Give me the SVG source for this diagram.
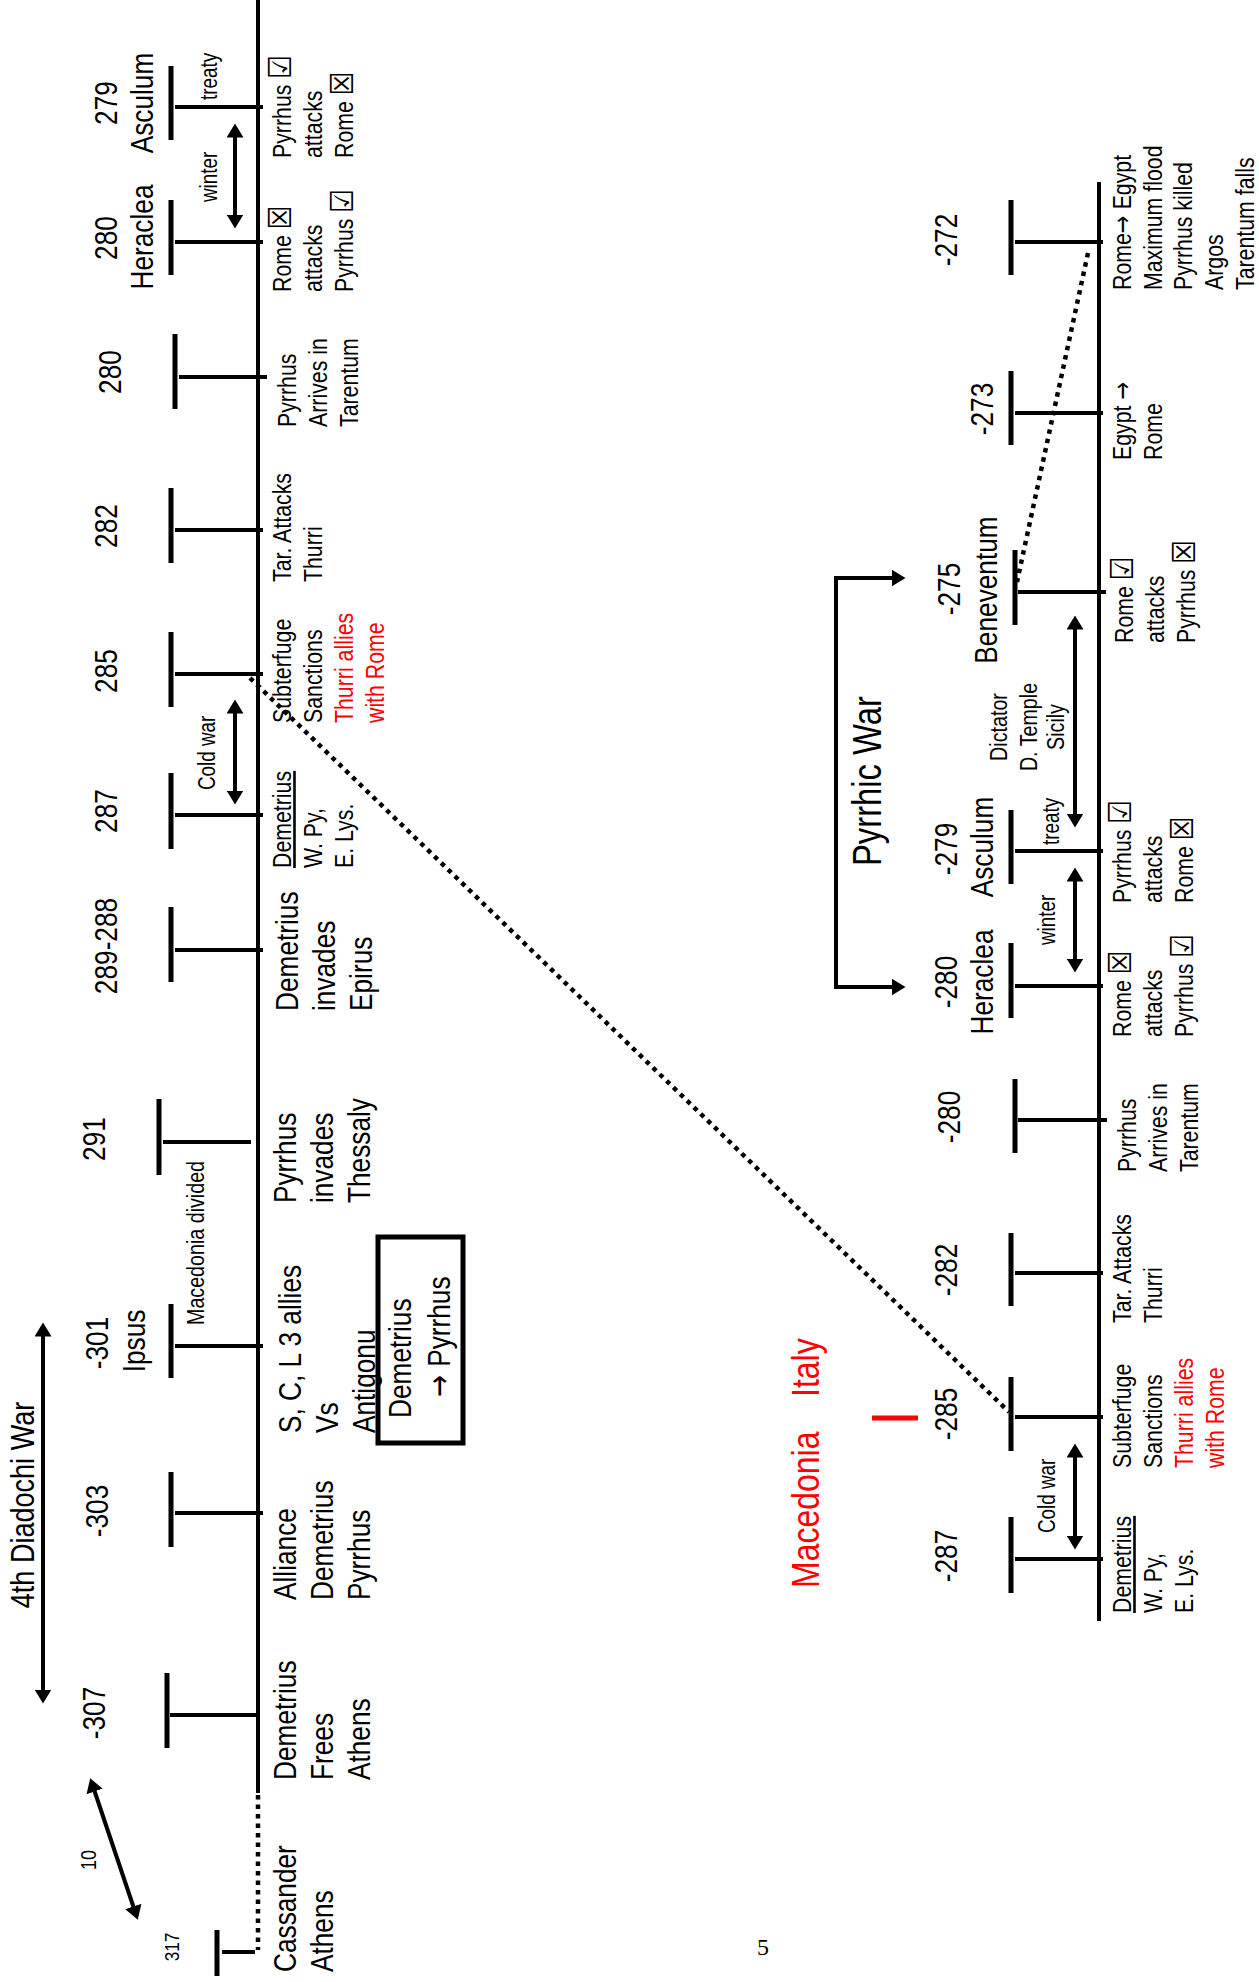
<svg xmlns="http://www.w3.org/2000/svg" width="1259" height="1982" viewBox="0 0 1259 1982">
<style>
text{font-family:"Liberation Sans",Arial,sans-serif;fill:#000}
.f32{font-size:32px}.f26{font-size:26px}.f24{font-size:24px}.f23{font-size:23px}.f40{font-size:40px}.f39{font-size:39px}.f22{font-size:22px}.f21{font-size:21px}
.m{text-anchor:middle}
.red{fill:#ff0000}
.cb{font-family:"DejaVu Sans",sans-serif;font-size:32px}
.ar{font-family:"DejaVu Sans",sans-serif}
.ax{stroke:#000;stroke-width:4;fill:none}
.th{stroke:#000;stroke-width:4}
.tb{stroke:#000;stroke-width:5}
.arr{stroke:#000;stroke-width:4;fill:none;marker-start:url(#ah);marker-end:url(#ah)}
.dot{stroke:#000;stroke-width:4.5;stroke-dasharray:4.5 5;fill:none}
.u{text-decoration:underline}
</style>
<defs>
<marker id="ah" viewBox="0 0 14 17" refX="0.5" refY="8.5" markerWidth="14" markerHeight="17" markerUnits="userSpaceOnUse" orient="auto-start-reverse"><path d="M0,0 L14,8.5 L0,17 Z" fill="#000"/></marker>
</defs>
<rect width="1259" height="1982" fill="#fff"/>

<!-- axes -->
<g id="axes">
<line class="ax" x1="258" y1="0" x2="258" y2="1793"/>
<line class="ax" x1="1099" y1="182" x2="1099" y2="1621"/>
</g>

<!-- LEFT TIMELINE NODES -->
<g id="L279">
<line class="th" x1="175" y1="107" x2="263" y2="107"/><line class="tb" x1="171" y1="66" x2="171" y2="140"/>
<text class="f32 m" transform="translate(117,103) rotate(-90) scale(.82,1)">279</text>
<text class="f32 m" transform="translate(153,103) rotate(-90) scale(.82,1)">Asculum</text>
<text class="f23" transform="translate(217,100) rotate(-90) scale(.82,1)">treaty</text>
<text class="f26" transform="translate(291,158) rotate(-90) scale(.82,1)"><tspan x="0">Pyrrhus <tspan class="cb">☑</tspan></tspan><tspan x="0" dy="31">attacks</tspan><tspan x="0" dy="31">Rome <tspan class="cb">☒</tspan></tspan></text>
</g>
<g id="L280H">
<line class="th" x1="175" y1="242" x2="263" y2="242"/><line class="tb" x1="171" y1="200" x2="171" y2="275"/>
<text class="f32 m" transform="translate(117,238) rotate(-90) scale(.82,1)">280</text>
<text class="f32 m" transform="translate(153,237) rotate(-90) scale(.82,1)">Heraclea</text>
<text class="f23" transform="translate(217,202) rotate(-90) scale(.82,1)">winter</text>
<text class="f26" transform="translate(291,292) rotate(-90) scale(.82,1)"><tspan x="0">Rome <tspan class="cb">☒</tspan></tspan><tspan x="0" dy="31">attacks</tspan><tspan x="0" dy="31">Pyrrhus <tspan class="cb">☑</tspan></tspan></text>
</g>
<g id="L280A">
<line class="th" x1="179" y1="377" x2="267" y2="377"/><line class="tb" x1="175" y1="334" x2="175" y2="409"/>
<text class="f32 m" transform="translate(121,372) rotate(-90) scale(.82,1)">280</text>
<text class="f26" transform="translate(296,427) rotate(-90) scale(.82,1)"><tspan x="0">Pyrrhus</tspan><tspan x="0" dy="31">Arrives in</tspan><tspan x="0" dy="31">Tarentum</tspan></text>
</g>
<g id="L282">
<line class="th" x1="175" y1="530" x2="263" y2="530"/><line class="tb" x1="171" y1="488" x2="171" y2="563"/>
<text class="f32 m" transform="translate(117,526) rotate(-90) scale(.82,1)">282</text>
<text class="f26" transform="translate(291,582) rotate(-90) scale(.82,1)"><tspan x="0">Tar. Attacks</tspan><tspan x="0" dy="31">Thurri</tspan></text>
</g>
<g id="L285">
<line class="th" x1="175" y1="674" x2="263" y2="674"/><line class="tb" x1="171" y1="632" x2="171" y2="707"/>
<text class="f32 m" transform="translate(117,671) rotate(-90) scale(.82,1)">285</text>
<text class="f26" transform="translate(291,723) rotate(-90) scale(.82,1)"><tspan x="0">Subterfuge</tspan><tspan x="0" dy="31">Sanctions</tspan><tspan x="0" dy="31" class="red">Thurri allies</tspan><tspan x="0" dy="31" class="red">with Rome</tspan></text>
</g>
<g id="L287">
<line class="th" x1="175" y1="815" x2="263" y2="815"/><line class="tb" x1="171" y1="773" x2="171" y2="849"/>
<text class="f32 m" transform="translate(117,811) rotate(-90) scale(.82,1)">287</text>
<text class="f23" transform="translate(215,790) rotate(-90) scale(.82,1)">Cold war</text>
<text class="f26" transform="translate(291,868) rotate(-90) scale(.82,1)"><tspan x="0" class="u">Demetrius</tspan><tspan x="0" dy="31">W. Py,</tspan><tspan x="0" dy="31">E. Lys.</tspan></text>
</g>
<g id="L289">
<line class="th" x1="175" y1="950" x2="263" y2="950"/><line class="tb" x1="171" y1="907" x2="171" y2="982"/>
<text class="f32 m" transform="translate(117,946) rotate(-90) scale(.82,1)">289-288</text>
<text class="f32" transform="translate(298,1011) rotate(-90) scale(.82,1)"><tspan x="0">Demetrius</tspan><tspan x="0" dy="37">invades</tspan><tspan x="0" dy="37">Epirus</tspan></text>
</g>
<g id="L291">
<line class="th" x1="163" y1="1142" x2="251" y2="1142"/><line class="tb" x1="159" y1="1099" x2="159" y2="1175"/>
<text class="f32 m" transform="translate(105,1139) rotate(-90) scale(.82,1)">291</text>
<text class="f24" transform="translate(204,1325) rotate(-90) scale(.82,1)">Macedonia divided</text>
<text class="f32" transform="translate(296,1203) rotate(-90) scale(.82,1)"><tspan x="0">Pyrrhus</tspan><tspan x="0" dy="37">invades</tspan><tspan x="0" dy="37">Thessaly</tspan></text>
</g>
<g id="L301">
<line class="th" x1="175" y1="1346" x2="263" y2="1346"/><line class="tb" x1="171" y1="1304" x2="171" y2="1378"/>
<text class="f32 m" transform="translate(108,1343) rotate(-90) scale(.82,1)">-301</text>
<text class="f32 m" transform="translate(145,1341) rotate(-90) scale(.82,1)">Ipsus</text>
<text class="f32" transform="translate(301,1433) rotate(-90) scale(.82,1)"><tspan x="0">S, C, L 3 allies</tspan><tspan x="0" dy="37">Vs</tspan><tspan x="0" dy="37">Antigonu</tspan></text>
</g>
<g id="Lbox">
<rect x="378" y="1237" width="85" height="206" fill="none" stroke="#000" stroke-width="5"/>
<text class="f32" transform="translate(411,1418) rotate(-90) scale(.82,1)">Demetrius</text>
<text class="f32" transform="translate(450,1397) rotate(-90) scale(.82,1)"><tspan class="ar">→</tspan><tspan dx="10">Pyrrhus</tspan></text>
</g>
<g id="L303">
<line class="th" x1="175" y1="1513" x2="263" y2="1513"/><line class="tb" x1="171" y1="1472" x2="171" y2="1547"/>
<text class="f32 m" transform="translate(108,1511) rotate(-90) scale(.82,1)">-303</text>
<text class="f32" transform="translate(296,1600) rotate(-90) scale(.82,1)"><tspan x="0">Alliance</tspan><tspan x="0" dy="37">Demetrius</tspan><tspan x="0" dy="37">Pyrrhus</tspan></text>
</g>
<g id="L307">
<line class="th" x1="170" y1="1715" x2="258" y2="1715"/><line class="tb" x1="167" y1="1673" x2="167" y2="1748"/>
<text class="f32 m" transform="translate(105,1713) rotate(-90) scale(.82,1)">-307</text>
<text class="f32" transform="translate(296,1780) rotate(-90) scale(.82,1)"><tspan x="0">Demetrius</tspan><tspan x="0" dy="37">Frees</tspan><tspan x="0" dy="37">Athens</tspan></text>
</g>
<g id="L317">
<line class="th" x1="222" y1="1952" x2="255" y2="1952"/><line class="tb" x1="217" y1="1930" x2="217" y2="1976"/>
<text class="f21 m" transform="translate(179,1947) rotate(-90) scale(.82,1)">317</text>
<text class="f22 m" transform="translate(96,1860) rotate(-90) scale(.82,1)">10</text>
<text class="f32" transform="translate(296,1972) rotate(-90) scale(.82,1)"><tspan x="0">Cassander</tspan><tspan x="0" dy="37">Athens</tspan></text>
</g>
<g id="Ldiadochi">
<text class="f32 m" style="font-size:33px" transform="translate(34,1505) rotate(-90) scale(.82,1)">4th Diadochi War</text>
</g>

<!-- RIGHT TIMELINE NODES -->
<g id="R272">
<line class="th" x1="1015" y1="242" x2="1103" y2="242"/><line class="tb" x1="1011" y1="200" x2="1011" y2="275"/>
<text class="f32 m" transform="translate(957,240) rotate(-90) scale(.82,1)">-272</text>
<text class="f26" transform="translate(1131,290) rotate(-90) scale(.82,1)"><tspan x="0">Rome<tspan class="ar">→</tspan> Egypt</tspan><tspan x="0" dy="31">Maximum flood</tspan><tspan x="0" dy="30">Pyrrhus killed</tspan><tspan x="0" dy="31">Argos</tspan><tspan x="0" dy="31">Tarentum falls</tspan></text>
</g>
<g id="R273">
<line class="th" x1="1015" y1="413" x2="1103" y2="413"/><line class="tb" x1="1011" y1="371" x2="1011" y2="445"/>
<text class="f32 m" transform="translate(993,409) rotate(-90) scale(.82,1)">-273</text>
<text class="f26" transform="translate(1131,460) rotate(-90) scale(.82,1)"><tspan x="0">Egypt <tspan class="ar">→</tspan></tspan><tspan x="0" dy="31">Rome</tspan></text>
</g>
<g id="R275">
<line class="th" x1="1018" y1="592" x2="1106" y2="592"/><line class="tb" x1="1015" y1="550" x2="1015" y2="625"/>
<text class="f32 m" transform="translate(960,589) rotate(-90) scale(.82,1)">-275</text>
<text class="f32 m" transform="translate(997,590) rotate(-90) scale(.82,1)">Beneventum</text>
<text class="f26" transform="translate(1133,643) rotate(-90) scale(.82,1)"><tspan x="0">Rome <tspan class="cb">☑</tspan></tspan><tspan x="0" dy="31">attacks</tspan><tspan x="0" dy="31">Pyrrhus <tspan class="cb">☒</tspan></tspan></text>
<text class="f24 m" transform="translate(1007,727) rotate(-90) scale(.82,1)"><tspan x="0">Dictator</tspan><tspan x="0" dy="30">D. Temple</tspan><tspan x="0" dy="27">Sicily</tspan></text>
</g>
<g id="R279">
<line class="th" x1="1015" y1="851" x2="1103" y2="851"/><line class="tb" x1="1011" y1="810" x2="1011" y2="884"/>
<text class="f32 m" transform="translate(957,849) rotate(-90) scale(.82,1)">-279</text>
<text class="f32 m" transform="translate(993,847) rotate(-90) scale(.82,1)">Asculum</text>
<text class="f23" transform="translate(1059,845) rotate(-90) scale(.82,1)">treaty</text>
<text class="f26" transform="translate(1131,903) rotate(-90) scale(.82,1)"><tspan x="0">Pyrrhus <tspan class="cb">☑</tspan></tspan><tspan x="0" dy="31">attacks</tspan><tspan x="0" dy="31">Rome <tspan class="cb">☒</tspan></tspan></text>
</g>
<g id="R280H">
<line class="th" x1="1015" y1="986" x2="1103" y2="986"/><line class="tb" x1="1011" y1="943" x2="1011" y2="1018"/>
<text class="f32 m" transform="translate(957,982) rotate(-90) scale(.82,1)">-280</text>
<text class="f32 m" transform="translate(993,982) rotate(-90) scale(.82,1)">Heraclea</text>
<text class="f23" transform="translate(1055,945) rotate(-90) scale(.82,1)">winter</text>
<text class="f26" transform="translate(1131,1037) rotate(-90) scale(.82,1)"><tspan x="0">Rome <tspan class="cb">☒</tspan></tspan><tspan x="0" dy="31">attacks</tspan><tspan x="0" dy="31">Pyrrhus <tspan class="cb">☑</tspan></tspan></text>
</g>
<g id="Rpyrrhic">
<text class="f40 m" transform="translate(881,781) rotate(-90) scale(.82,1)">Pyrrhic War</text>
</g>
<g id="R280A">
<line class="th" x1="1018" y1="1120" x2="1107" y2="1120"/><line class="tb" x1="1015" y1="1079" x2="1015" y2="1153"/>
<text class="f32 m" transform="translate(960,1117) rotate(-90) scale(.82,1)">-280</text>
<text class="f26" transform="translate(1136,1172) rotate(-90) scale(.82,1)"><tspan x="0">Pyrrhus</tspan><tspan x="0" dy="31">Arrives in</tspan><tspan x="0" dy="31">Tarentum</tspan></text>
</g>
<g id="R282">
<line class="th" x1="1015" y1="1273" x2="1103" y2="1273"/><line class="tb" x1="1011" y1="1233" x2="1011" y2="1306"/>
<text class="f32 m" transform="translate(957,1270) rotate(-90) scale(.82,1)">-282</text>
<text class="f26" transform="translate(1131,1323) rotate(-90) scale(.82,1)"><tspan x="0">Tar. Attacks</tspan><tspan x="0" dy="31">Thurri</tspan></text>
</g>
<g id="R285">
<line class="th" x1="1015" y1="1417" x2="1103" y2="1417"/><line class="tb" x1="1011" y1="1377" x2="1011" y2="1451"/>
<text class="f32 m" transform="translate(957,1414) rotate(-90) scale(.82,1)">-285</text>
<text class="f26" transform="translate(1131,1468) rotate(-90) scale(.82,1)"><tspan x="0">Subterfuge</tspan><tspan x="0" dy="31">Sanctions</tspan><tspan x="0" dy="31" class="red">Thurri allies</tspan><tspan x="0" dy="31" class="red">with Rome</tspan></text>
</g>
<g id="R287">
<line class="th" x1="1015" y1="1559" x2="1103" y2="1559"/><line class="tb" x1="1011" y1="1517" x2="1011" y2="1593"/>
<text class="f32 m" transform="translate(957,1556) rotate(-90) scale(.82,1)">-287</text>
<text class="f23" transform="translate(1055,1533) rotate(-90) scale(.82,1)">Cold war</text>
<text class="f26" transform="translate(1131,1613) rotate(-90) scale(.82,1)"><tspan x="0" class="u">Demetrius</tspan><tspan x="0" dy="31">W. Py,</tspan><tspan x="0" dy="31">E. Lys.</tspan></text>
</g>
<g id="Rregion">
<text class="f39 red" transform="translate(819,1588) rotate(-90) scale(.82,1)">Macedonia</text>
<text class="f39 red" transform="translate(819,1397) rotate(-90) scale(.82,1)">Italy</text>
<line x1="872" y1="1418" x2="918" y2="1418" stroke="#ff0000" stroke-width="5"/>
</g>
<g id="page">
<text x="757" y="1955" style="font-family:'Liberation Serif',serif;font-size:24px">5</text>
</g>

<!-- CONNECTORS -->
<g id="connectors">
<line class="dot" x1="258" y1="1795" x2="258" y2="1950"/>
<line class="dot" x1="250" y1="678" x2="1009" y2="1412"/>
<line class="dot" stroke-width="5" x1="1088" y1="253" x2="1017" y2="582"/>
<line class="arr" x1="235" y1="137" x2="235" y2="215"/>
<line class="arr" x1="235" y1="713" x2="235" y2="791"/>
<line class="arr" x1="43" y1="1336" x2="43" y2="1690"/>
<line class="arr" x1="94.5" y1="1791" x2="133.5" y2="1907"/>
<line class="arr" x1="1075" y1="629" x2="1075" y2="814"/>
<line class="arr" x1="1075" y1="881" x2="1075" y2="959"/>
<line class="arr" x1="1075" y1="1457" x2="1075" y2="1536"/>
<polyline class="arr" points="892,578 836,578 836,987 892,987"/>
</g>
</svg>
